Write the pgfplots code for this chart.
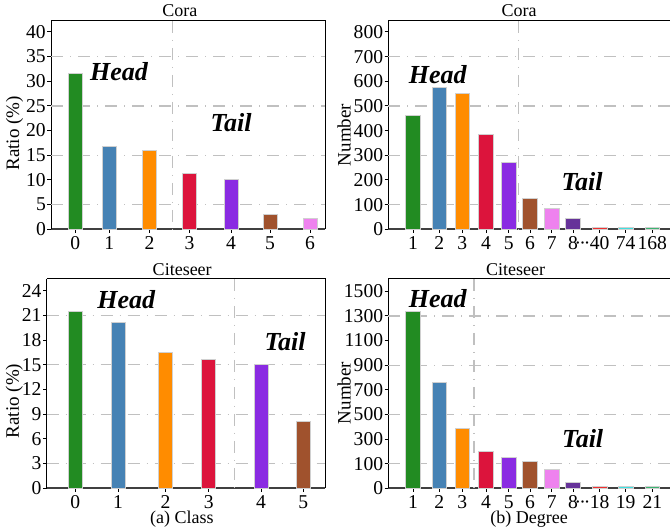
\documentclass[border=0pt]{standalone}
\usepackage{pgfplots}
\pgfplotsset{compat=1.18}
\usepackage{fontspec}
\setmainfont{Liberation Serif}
\definecolor{forestgreen}{HTML}{228B22}
\definecolor{steelblue}{HTML}{4682B4}
\definecolor{darkorange}{HTML}{FF8C00}
\definecolor{crimson}{HTML}{DC143C}
\definecolor{blueviolet}{HTML}{8A2BE2}
\definecolor{sienna}{HTML}{A0522D}
\definecolor{violet}{HTML}{EE82EE}
\definecolor{rebeccapurple}{HTML}{663399}
\definecolor{myred}{HTML}{F03030}
\definecolor{turq}{HTML}{40E0E0}
\definecolor{seagreen}{HTML}{3CB371}
\definecolor{edgegray}{HTML}{D0D0D0}
\definecolor{gridgray}{HTML}{C0C0C0}
\definecolor{axisgray}{HTML}{404040}
\newcommand{\tickfont}{\fontsize{9.8}{11}\selectfont}
\newcommand{\labfont}{\fontsize{9}{11}\selectfont}
\newcommand{\ylabfont}{\fontsize{9.5}{11}\selectfont}
\newcommand{\htfont}{\fontsize{13}{15}\selectfont\bfseries\itshape}
\newcommand{\mdots}{\textperiodcentered\kern-0.9pt\textperiodcentered\kern-0.9pt\textperiodcentered\kern-0.3pt}
\tikzset{gridline/.style={color=gridgray, line width=0.65pt, dash pattern=on 6pt off 3.5pt on 0.5pt off 3.5pt}}
\pgfplotsset{
  myaxis/.style={
    scale only axis, anchor=south west,
    axis lines*=left,
    axis line style={black, line width=0.5pt},
    x axis line style={color=axisgray, line width=0.8pt},
    tick style={black, line width=0.5pt},
    tick align=outside, major tick length=1.8pt,
    ymin=0, xmin=0, clip=false,
    scaled y ticks=false,
    tick label style={font=\tickfont},
    yticklabel style={inner sep=0pt, xshift=-0.6pt},
    xticklabel style={inner sep=0pt, yshift=-1.6pt},
    /pgf/number format/assume math mode=true,
    ylabel style={font=\ylabfont, anchor=center},
    extra y tick labels={},
    extra y tick style={grid=major, major grid style={gridline}},
  },
  bstyleL/.style={ybar, bar width=7pt, draw=edgegray, line width=0.5pt},
  bstyleR/.style={ybar, bar width=7.3pt, draw=edgegray, line width=0.5pt},
}
\begin{document}
\begin{tikzpicture}
\path[use as bounding box] (0,0) rectangle (335pt,264pt);
% ---------------- Top-left: Cora, class ----------------
\begin{axis}[myaxis, at={(25.5pt,149.35pt)}, width=137pt, height=104.15pt,
  xmax=274, ymax=42.2,
  ytick={0,5,...,40}, extra y ticks={5,15,25,35},
  xtick={24.2,58.2,98.5,138.5,180,219,259}, xticklabels={0,1,2,3,4,5,6},
  ylabel={Ratio (\%)}, ylabel style={at={(axis description cs:-0.133,0.46)}}]
\addplot[gridline] coordinates {(121.3,42.2) (121.3,0)};
\addplot[bstyleL, fill=forestgreen] coordinates {(24.2,31.5)};
\addplot[bstyleL, fill=steelblue] coordinates {(58.2,16.7)};
\addplot[bstyleL, fill=darkorange] coordinates {(98.5,16.0)};
\addplot[bstyleL, fill=crimson] coordinates {(138.5,11.35)};
\addplot[bstyleL, fill=blueviolet] coordinates {(180,10.1)};
\addplot[bstyleL, fill=sienna] coordinates {(219,3.0)};
\addplot[bstyleL, fill=violet] coordinates {(259,2.2)};
\draw[black, line width=0.5pt] (rel axis cs:0,1) -- (rel axis cs:1,1) -- (rel axis cs:1,0);
\node[anchor=base, yshift=2.15pt, font=\labfont] at (rel axis cs:0.47,1) {Cora};
\node[anchor=base, font=\htfont] at (axis cs:68,30.1) {Head};
\node[anchor=base, font=\htfont] at (axis cs:180,19.8) {Tail};
\end{axis}
% ---------------- Top-right: Cora, degree ----------------
\begin{axis}[myaxis, at={(194.15pt,149.35pt)}, width=140.85pt, height=104.15pt,
  xmax=281.7, ymax=844.6,
  ytick={0,100,...,800}, extra y ticks={100,300,500,700},
  xtick={24.7,51.0,74.0,97.7,120.4,141.7,163.4,184.7,211.4,237.4,264.0},
  xticklabels={1,2,3,4,5,6,7,8,\llap{\mdots}40,74,168},
  ylabel={Number}, ylabel style={at={(axis description cs:-0.157,0.453)}}]
\addplot[gridline] coordinates {(130.4,844.6) (130.4,0)};
\addplot[bstyleR, fill=forestgreen] coordinates {(24.7,463)};
\addplot[bstyleR, fill=steelblue] coordinates {(51.0,574)};
\addplot[bstyleR, fill=darkorange] coordinates {(74.0,550)};
\addplot[bstyleR, fill=crimson] coordinates {(97.7,384)};
\addplot[bstyleR, fill=blueviolet] coordinates {(120.4,272)};
\addplot[bstyleR, fill=sienna] coordinates {(141.7,123)};
\addplot[bstyleR, fill=violet] coordinates {(163.4,86)};
\addplot[bstyleR, fill=rebeccapurple] coordinates {(184.7,42)};
\addplot[bstyleR, fill=myred] coordinates {(211.4,6)};
\addplot[bstyleR, fill=turq] coordinates {(237.4,6)};
\addplot[bstyleR, fill=seagreen] coordinates {(264.0,6)};
\draw[black, line width=0.5pt] (rel axis cs:0,1) -- (rel axis cs:1,1);
\node[anchor=base, yshift=2.15pt, font=\labfont] at (rel axis cs:0.464,1) {Cora};
\node[anchor=base, font=\htfont] at (axis cs:49.4,592) {Head};
\node[anchor=base, font=\htfont] at (axis cs:193.7,159) {Tail};
\end{axis}
% ---------------- Bottom-left: Citeseer, class ----------------
\begin{axis}[myaxis, at={(23.35pt,19.85pt)}, width=139.15pt, height=104.65pt,
  xmax=278.3, ymax=25.42,
  ytick={0,3,...,24}, extra y ticks={3,9,15,21},
  xtick={28.5,71.3,118.8,162.1,214.3,256.6}, xticklabels={0,1,2,3,4,5},
  ylabel={Ratio (\%)}, ylabel style={at={(axis description cs:-0.116,0.417)}}]
\addplot[gridline] coordinates {(187.6,25.42) (187.6,0)};
\addplot[bstyleL, fill=forestgreen] coordinates {(28.5,21.44)};
\addplot[bstyleL, fill=steelblue] coordinates {(71.3,20.19)};
\addplot[bstyleL, fill=darkorange] coordinates {(118.8,16.5)};
\addplot[bstyleL, fill=crimson] coordinates {(162.1,15.6)};
\addplot[bstyleL, fill=blueviolet] coordinates {(214.3,15.0)};
\addplot[bstyleL, fill=sienna] coordinates {(256.6,8.15)};
\draw[black, line width=0.5pt] (rel axis cs:0,1) -- (rel axis cs:1,1) -- (rel axis cs:1,0);
\node[anchor=base, yshift=1.65pt, font=\labfont] at (rel axis cs:0.487,1) {Citeseer};
\node[anchor=base, font=\htfont] at (axis cs:79.6,21.8) {Head};
\node[anchor=base, font=\htfont] at (axis cs:238.3,16.7) {Tail};
\node[anchor=base, inner sep=0pt, yshift=-17.6pt, font=\labfont] at (rel axis cs:0.486,0) {(a) Class};
\end{axis}
% ---------------- Bottom-right: Citeseer, degree ----------------
\begin{axis}[myaxis, at={(194.15pt,19.85pt)}, width=140.85pt, height=104.65pt,
  xmax=281.7, ymax=1700,
  ytick={0,200,...,1600}, yticklabels={0,100,300,500,700,900,1100,1300,1500},
  extra y ticks={200,600,1000,1400},
  xtick={24.7,51.0,74.0,97.7,120.4,141.7,163.4,184.7,211.4,237.4,264.0},
  xticklabels={1,2,3,4,5,6,7,8,\llap{\mdots}18,19,21},
  ylabel={Number}, ylabel style={at={(axis description cs:-0.157,0.455)}}]
\addplot[gridline] coordinates {(85.7,1700) (85.7,0)};
\addplot[bstyleR, fill=forestgreen] coordinates {(24.7,1437)};
\addplot[bstyleR, fill=steelblue] coordinates {(51.0,857)};
\addplot[bstyleR, fill=darkorange] coordinates {(74.0,483)};
\addplot[bstyleR, fill=crimson] coordinates {(97.7,301)};
\addplot[bstyleR, fill=blueviolet] coordinates {(120.4,250)};
\addplot[bstyleR, fill=sienna] coordinates {(141.7,214)};
\addplot[bstyleR, fill=violet] coordinates {(163.4,149)};
\addplot[bstyleR, fill=rebeccapurple] coordinates {(184.7,43)};
\addplot[bstyleR, fill=myred] coordinates {(211.4,12)};
\addplot[bstyleR, fill=turq] coordinates {(237.4,12)};
\addplot[bstyleR, fill=seagreen] coordinates {(264.0,12)};
\draw[black, line width=0.5pt] (rel axis cs:0,1) -- (rel axis cs:1,1);
\node[anchor=base, yshift=1.65pt, font=\labfont] at (rel axis cs:0.452,1) {Citeseer};
\node[anchor=base, font=\htfont] at (axis cs:49.4,1465) {Head};
\node[anchor=base, font=\htfont] at (axis cs:194.4,334) {Tail};
\node[anchor=base, inner sep=0pt, yshift=-17.6pt, font=\labfont] at (rel axis cs:0.5,0) {(b) Degree};
\end{axis}
\end{tikzpicture}
\end{document}
